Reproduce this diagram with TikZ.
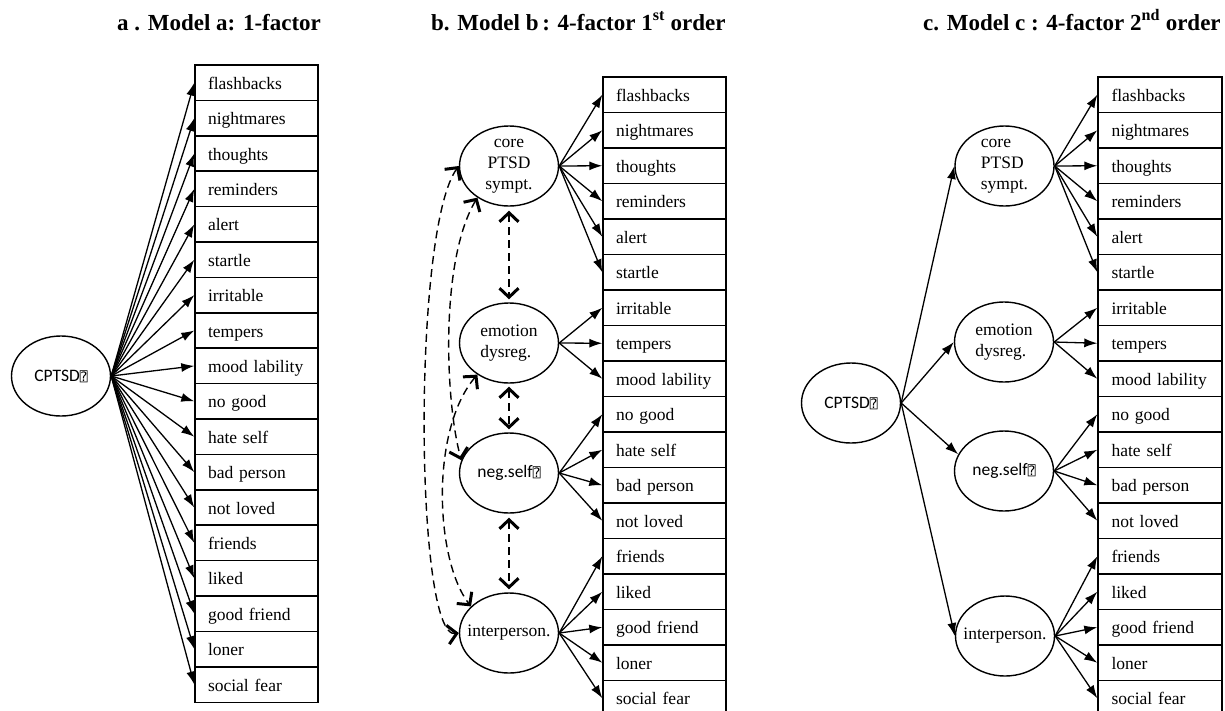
\documentclass[tikz,border=0pt]{standalone}
\usepackage{fontspec}
\setmainfont{Liberation Serif}
\newfontfamily\carl{Carlito}
\newfontfamily\dvmono{DejaVu Sans Mono}
\usetikzlibrary{arrows.meta,shapes.geometric}
\newcommand\tofu{{\dvmono\fontsize{13}{13}\selectfont ⍰}}
\begin{document}
\begin{tikzpicture}[x=1pt,y=-1pt,
  every node/.style={font=\fontsize{17.5}{21}\selectfont},
  rowbox/.style={draw, line width=1.4pt, minimum width=123pt, minimum height=35.5pt,
    inner xsep=13pt, text width=97pt, align=left, text height=14pt, text depth=1pt},
  lat/.style={draw, ellipse, line width=1.4pt, minimum width=99pt, minimum height=80pt,
    inner xsep=-10pt, inner ysep=-6pt},
  ttl/.style={font=\fontsize{23}{26}\selectfont\bfseries, anchor=base west, inner sep=0pt},
  arr/.style={-{Latex[length=13pt,width=9pt]}, line width=1.3pt},
  dbl/.style={{Straight Barb[length=9pt,width=19pt,line width=3pt]}-{Straight Barb[length=9pt,width=19pt,line width=3pt]},
    dash pattern=on 8pt off 5pt, line width=1.4pt}]
\useasboundingbox (0,0) rectangle (1225,710);

% titles
\node[ttl] (ta) at (117,30) {a . Model a: 1-factor};
\node[ttl] (tb) at (431,30) {b. Model b\,: 4-factor 1\textsuperscript{st} order};
\node[ttl] (tc) at (923,30) {c. Model c : 4-factor 2\textsuperscript{nd} order};

% indicator columns
\foreach \t [count=\i] in {flashbacks,nightmares,thoughts,reminders,alert,startle,irritable,tempers,mood lability,no good,hate self,bad person,not loved,friends,liked,good friend,loner,social fear} {
  \node[rowbox] (a\i) at (256.5, {65+35.4*(\i-0.5)}) {\t};
  \node[rowbox] (b\i) at (664.5, {77+35.5*(\i-0.5)}) {\t};
  \node[rowbox, minimum width=124pt] (c\i) at (1160, {77+35.5*(\i-0.5)}) {\t};
}

% Model a
\node[lat] (cpa) at (61,376) {\carl CPTSD\tofu};
\foreach \i in {1,...,18} \draw[arr] (cpa.east) -- (a\i.west);

% Model b
\node[lat, align=center] (coreb) at (509,166) {core\\PTSD\\sympt.};
\node[lat, align=left] (emob) at (509,343) {emotion\\dysreg.};
\node[lat] (negb) at (509,473) {\carl neg.self\tofu};
\node[lat] (intb) at (509,633) {interperson.};
\foreach \i in {1,...,6} \draw[arr] (coreb.east) -- (b\i.west);
\foreach \i in {7,8,9} \draw[arr] (emob.east) -- (b\i.west);
\foreach \i in {10,...,13} \draw[arr] (negb.east) -- (b\i.west);
\foreach \i in {14,...,18} \draw[arr] (intb.east) -- (b\i.west);
\draw[dbl, shorten <=4pt, shorten >=3pt] (coreb.south) -- (emob.north);
\draw[dbl, shorten <=3pt, shorten >=3pt] (emob.south) -- (negb.north);
\draw[dbl, shorten <=4pt, shorten >=3pt] (negb.south) -- (intb.north);
\draw[dbl] (coreb.west) .. controls (412,230) and (415,640) .. (intb.west);
\draw[dbl] (coreb.225) .. controls (440,260) and (445,400) .. (negb.165);
\draw[dbl] (emob.225) .. controls (430,430) and (435,560) .. (intb.145);

% Model c
\node[lat] (cpc) at (851,403) {\carl CPTSD\tofu};
\node[lat, align=left] (corec) at (1004.5,166) {core\\PTSD\\sympt.};
\node[lat, align=left] (emoc) at (1004,342) {emotion\\dysreg.};
\node[lat] (negc) at (1004,471) {\carl neg.self\tofu};
\node[lat] (intc) at (1005,636) {interperson.};
\draw[arr] (cpc.east) -- (corec.west);
\draw[arr] (cpc.east) -- (emoc.west);
\draw[arr] (cpc.east) -- (negc.160);
\draw[arr] (cpc.east) -- (intc.west);
\foreach \i in {1,...,6} \draw[arr] (corec.east) -- (c\i.west);
\foreach \i in {7,8,9} \draw[arr] (emoc.east) -- (c\i.west);
\foreach \i in {10,...,13} \draw[arr] (negc.east) -- (c\i.west);
\foreach \i in {14,...,18} \draw[arr] (intc.east) -- (c\i.west);
\end{tikzpicture}
\end{document}
